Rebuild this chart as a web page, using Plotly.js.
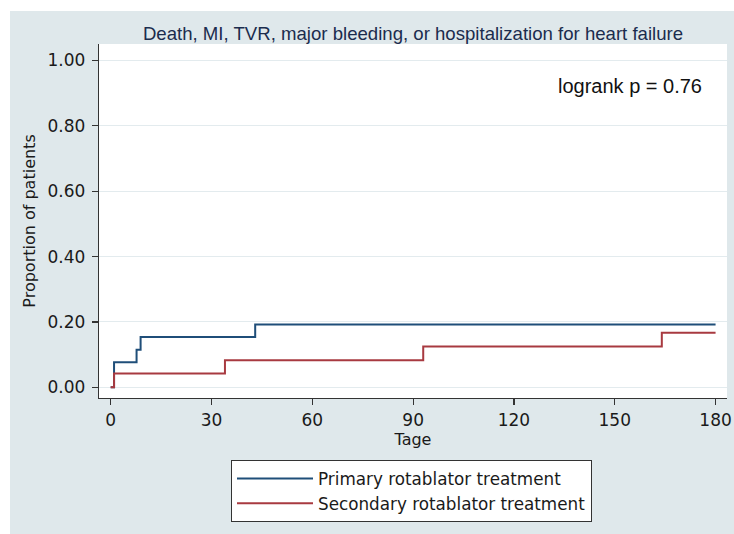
<!DOCTYPE html>
<html>
<head>
<meta charset="utf-8">
<script src="https://cdn.plot.ly/plotly-3.0.1.min.js"></script>
<style>
  html, body { margin: 0; padding: 0; background: #ffffff; }
  #chart { width: 734px; height: 534px; }
</style>
</head>
<body>
<div id="chart"></div>
<script>
// Kaplan-Meier style cumulative event proportions
const primaryDays   = [0, 1, 7.7, 8.9, 43, 180];
const primaryValues = [0, 0.077, 0.115, 0.154, 0.192, 0.192];
const secondaryDays   = [0, 1, 34, 93, 164, 180];
const secondaryValues = [0, 0.042, 0.083, 0.125, 0.167, 0.167];
const seriesNames = ["Primary rotablator treatment", "Secondary rotablator treatment"];
const xTicks = [0, 30, 60, 90, 120, 150, 180];
const yTicks = [0, 0.2, 0.4, 0.6, 0.8, 1.0];
const titleText = "Death, MI, TVR, major bleeding, or hospitalization for heart failure";
const pvalueText = "logrank p = 0.76";

const bg = "#dfe8eb";
const tickFont = { family: "DejaVu Sans, Verdana, sans-serif", size: 17, color: "#1a1a1a" };

const traces = [
  {
    x: primaryDays, y: primaryValues, name: seriesNames[0],
    type: "scatter", mode: "lines", legendgroup: "a",
    line: { shape: "hv", color: "#1f4e79", width: 2 }
  },
  {
    x: secondaryDays, y: secondaryValues, name: seriesNames[1],
    type: "scatter", mode: "lines", legendgroup: "b",
    line: { shape: "hv", color: "#a83a40", width: 2 }
  }
];

const layout = {
  width: 734, height: 534,
  margin: { l: 99, r: 7, t: 44, b: 136, pad: 0 },
  paper_bgcolor: bg,
  plot_bgcolor: "#ffffff",
  showlegend: true,
  title: {
    text: titleText,
    font: { family: "Liberation Sans, Arial, sans-serif", size: 18.6, color: "#1b2c4e" },
    x: 0.5, xref: "paper", xanchor: "center",
    y: 1 - 33 / 534, yref: "container", yanchor: "middle"
  },
  xaxis: {
    range: [-3.48, 183.4],
    tickvals: xTicks,
    ticktext: xTicks.map(String),
    ticks: "outside", ticklen: 6, tickwidth: 1.2, tickcolor: "#333333",
    showline: true, linecolor: "#333333", linewidth: 1.2,
    showgrid: false, zeroline: false,
    tickfont: tickFont,
    title: { text: "Tage", font: { family: "DejaVu Sans, Verdana, sans-serif", size: 16, color: "#1a1a1a" }, standoff: 4 }
  },
  yaxis: {
    range: [-0.0327, 1.0505],
    tickvals: yTicks,
    ticktext: yTicks.map(v => v.toFixed(2)),
    ticks: "outside", ticklen: 6, tickwidth: 1.2, tickcolor: "#333333",
    showline: true, linecolor: "#333333", linewidth: 1.2,
    showgrid: true, gridcolor: "#e3ebee", gridwidth: 1,
    zeroline: false,
    tickfont: tickFont,
    ticklabelstandoff: 3,
    title: { text: "Proportion of patients", font: { family: "DejaVu Sans, Verdana, sans-serif", size: 16, color: "#1a1a1a" }, standoff: 8 }
  },
  legend: {
    x: (231 - 99) / 628, xanchor: "left",
    y: (398 - 460) / 354, yanchor: "top",
    bgcolor: "#ffffff", bordercolor: "#333333", borderwidth: 1,
    font: { family: "DejaVu Sans, Verdana, sans-serif", size: 16.8, color: "#1a1a1a" },
    itemwidth: 76,
    tracegroupgap: 2,
    traceorder: "normal"
  },
  annotations: [
    {
      text: pvalueText, xref: "paper", yref: "paper",
      x: (704 - 99) / 628, xanchor: "right",
      y: (398 - 86) / 354, yanchor: "middle",
      showarrow: false,
      font: { family: "Liberation Sans, Arial, sans-serif", size: 20, color: "#111111" }
    }
  ],
  shapes: [
    { type: "rect", xref: "paper", yref: "paper", layer: "below",
      x0: -99 / 628, x1: 1.1, y0: (398 - 11) / 354, y1: 1.2,
      fillcolor: "#ffffff", line: { width: 0 } },
    { type: "rect", xref: "paper", yref: "paper", layer: "below",
      x0: -99 / 628, x1: (10 - 99) / 628, y0: -0.5, y1: 1.2,
      fillcolor: "#ffffff", line: { width: 0 } }
  ]
};

Plotly.newPlot("chart", traces, layout, { displayModeBar: false, staticPlot: true });
</script>
</body>
</html>
